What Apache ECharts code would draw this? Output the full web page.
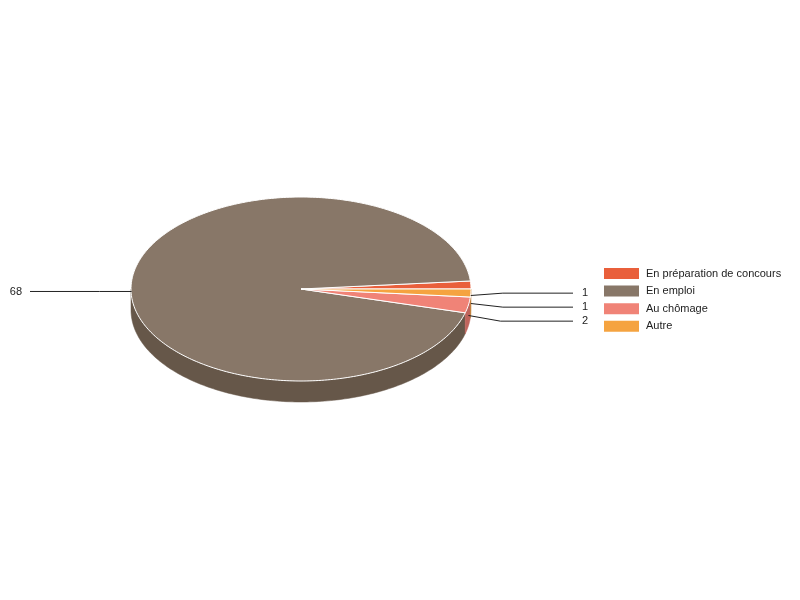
<!DOCTYPE html>
<html><head><meta charset="utf-8">
<script src="https://cdn.jsdelivr.net/npm/echarts@6/dist/echarts.min.js"></script>
<style>html,body{margin:0;padding:0;background:#fff}#main{width:800px;height:600px}</style>
</head><body><div id="main"></div>
<script>
// ---- data ----
const categories = ['En préparation de concours', 'En emploi', 'Au chômage', 'Autre'];
const values = [1, 68, 2, 1];
const colors = ['#e95f3b', '#887768', '#f08377', '#f5a340'];
const sideColors = ['#b04a2e', '#665749', '#c0645c', '#c07f33'];

// ---- layout ----
const CX = 301, CY = 289, RX = 170, RY = 92, DEPTH = 21;
const START = 0; // degrees, counter-clockwise
const FONT = 'Liberation Sans, Arial, sans-serif';

const total = values.reduce((a, b) => a + b, 0);
const angles = [];
(function () {
  let acc = START;
  values.forEach(v => { const s = acc; acc += v / total * 360; angles.push([s, acc]); });
})();
const rad = d => d * Math.PI / 180;
function pt(a, dy) { return [CX + RX * Math.cos(rad(a)), CY - RY * Math.sin(rad(a)) + (dy || 0)]; }
function arc(s, e, dy) {
  const pts = []; const n = Math.max(2, Math.ceil(Math.abs(e - s) / 1));
  for (let k = 0; k <= n; k++) pts.push(pt(s + (e - s) * k / n, dy));
  return pts;
}

// label layout: anchors at mid-angle on the side, half depth
const labels = values.map((v, i) => {
  const m = (angles[i][0] + angles[i][1]) / 2;
  const a = pt(m, DEPTH / 2);
  return { i, m, ax: a[0], ay: a[1], right: Math.cos(rad(m)) >= 0, y: a[1] };
});
['right', 'left'].forEach(side => {
  const arr = labels.filter(l => (side === 'right') === l.right).sort((a, b) => a.ay - b.ay);
  const GAP = 14;
  for (let k = 1; k < arr.length; k++) if (arr[k].y - arr[k - 1].y < GAP) arr[k].y = arr[k - 1].y + GAP;
  if (arr.length > 1) {
    const mean = arr.reduce((s, l) => s + (l.y - l.ay), 0) / arr.length;
    arr.forEach(l => l.y -= mean / 2);
  }
});

function renderSlice(i) {
  return function (params, api) {
    const val = api.value(0);
    const [s, e] = angles[i];
    const children = [];
    // side wall (front half only: 180..360)
    const vs = Math.max(s, 180), ve = Math.min(e, 360);
    if (ve > vs) {
      const top = arc(vs, ve, 0), bot = arc(ve, vs, DEPTH);
      children.push({ type: 'polygon', z2: 1, shape: { points: top.concat(bot) },
        style: { fill: sideColors[i], stroke: sideColors[i], lineWidth: 0.5 } });
    }
    // top face
    children.push({ type: 'polygon', z2: 10, shape: { points: [[CX, CY]].concat(arc(s, e, 0)) },
      style: { fill: colors[i], stroke: '#ffffff', lineWidth: 1 } });
    // label
    const l = labels[i];
    const dir = l.right ? 1 : -1;
    const endX = l.right ? 573 : 30;
    children.push({ type: 'polyline', z2: 20,
      shape: { points: [[l.ax, l.ay], [l.ax + dir * 32, l.y], [endX, l.y]] },
      style: { stroke: '#222', lineWidth: 1, fill: null } });
    children.push({ type: 'text', z2: 20,
      style: { text: String(val), x: l.right ? endX + 9 : endX - 8, y: l.y,
        align: l.right ? 'left' : 'right', verticalAlign: 'middle',
        fill: '#222', font: '11px ' + FONT } });
    return { type: 'group', children };
  };
}

const series = categories.map((name, i) => ({
  type: 'custom', name, coordinateSystem: 'none',
  itemStyle: { color: colors[i] },
  data: [[values[i]]],
  renderItem: renderSlice(i),
  silent: true
}));

const chart = echarts.init(document.getElementById('main'), null, { renderer: 'canvas' });
chart.setOption({
  animation: false,
  backgroundColor: '#ffffff',
  legend: {
    orient: 'vertical', left: 604, top: 268, icon: 'rect', padding: 0,
    itemWidth: 35, itemHeight: 11, itemGap: 6.6,
    data: categories,
    textStyle: { fontSize: 11, fontFamily: FONT, color: '#222', padding: [0, 0, 0, 2] }
  },
  series
});
</script></body></html>
